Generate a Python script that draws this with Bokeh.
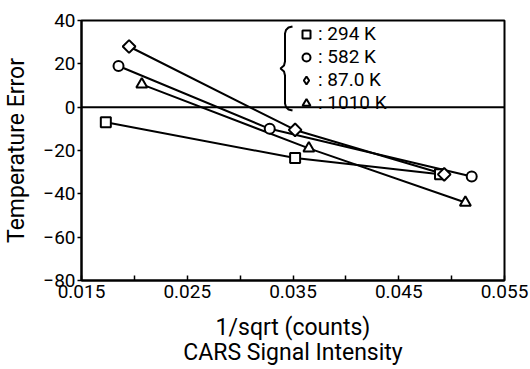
import math
from bokeh.plotting import figure
from bokeh.models import Range1d, FixedTicker, Span, Legend, LegendItem, PolyAnnotation, NumeralTickFormatter
from bokeh.embed import file_html
from bokeh.resources import INLINE

# ---- data ----
x_ticks_major = [0.015, 0.025, 0.035, 0.045, 0.055]
x_ticks_minor = [0.020, 0.030, 0.040, 0.050]
y_ticks = [40, 20, 0, -20, -40, -60, -80]

series_labels = ["294 K", "582 K", "87.0 K", "1010 K"]
x_294 = [0.0173, 0.0352, 0.0489]
y_294 = [-7.0, -23.5, -31.0]
x_582 = [0.0185, 0.0328, 0.0519]
y_582 = [19.0, -10.0, -32.0]
x_870 = [0.0195, 0.0352, 0.0493]
y_870 = [28.0, -10.5, -31.0]
x_1010 = [0.0207, 0.0365, 0.0513]
y_1010 = [10.5, -19.0, -44.0]

xs_all = [x_294, x_582, x_870, x_1010]
ys_all = [y_294, y_582, y_870, y_1010]
legend_markers = ["square", "circle", "diamond", "triangle"]
sizes = [10, 10, 9, 11]

FONT = "Roboto"

p = figure(width=530, height=369, output_backend="svg", toolbar_location=None,
           x_range=Range1d(0.015, 0.055), y_range=Range1d(-80, 40),
           min_border_left=80, min_border_right=26, min_border_top=20, min_border_bottom=87,
           background_fill_color="white", border_fill_color="white")
p.grid.visible = False
p.outline_line_color = "black"
p.outline_line_width = 2

# x axis
xa = p.xaxis[0]
xa.ticker = FixedTicker(ticks=x_ticks_major, minor_ticks=x_ticks_minor)
xa.formatter = NumeralTickFormatter(format="0.000")
xa.major_tick_in = 5
xa.major_tick_out = 0
xa.minor_tick_in = 5
xa.minor_tick_out = 0
xa.major_tick_line_width = 1.5
xa.minor_tick_line_width = 1.5
xa.axis_line_width = 2
xa.major_label_standoff = 4
xa.major_label_text_font = FONT
xa.major_label_text_font_size = "19px"
xa.major_label_text_color = "black"
xa.axis_label = "1/sqrt (counts)\nCARS Signal Intensity"
xa.axis_label_text_font = FONT
xa.axis_label_text_font_size = "23px"
xa.axis_label_text_font_style = "normal"
xa.axis_label_text_color = "black"
xa.axis_label_standoff = 13
xa.axis_label_text_line_height = 0.95

# y axis
ya = p.yaxis[0]
ya.ticker = FixedTicker(ticks=y_ticks)
ya.major_tick_in = 0
ya.major_tick_out = 4
ya.minor_tick_in = 0
ya.minor_tick_out = 0
ya.major_tick_line_width = 1.5
ya.axis_line_width = 2
ya.major_label_standoff = 2
ya.major_label_text_font = FONT
ya.major_label_text_font_size = "19px"
ya.major_label_text_color = "black"
ya.axis_label = "Temperature Error"
ya.axis_label_text_font = FONT
ya.axis_label_text_font_size = "23px"
ya.axis_label_text_font_style = "normal"
ya.axis_label_text_color = "black"
ya.axis_label_standoff = 10

# zero line
p.add_layout(Span(location=0, dimension="width", line_color="black", line_width=2))

# series lines
for xs, ys in zip(xs_all, ys_all):
    p.line(xs, ys, line_color="black", line_width=2)

# series markers
items = []
for i, (xs, ys, m, s, lab) in enumerate(zip(xs_all, ys_all, legend_markers, sizes, series_labels)):
    if m == "diamond":
        # legend glyph (hidden under the square-shaped diamonds drawn next)
        r = p.scatter(xs, ys, marker="diamond", size=s, fill_color="white", line_color="black", line_width=2)
        p.scatter(xs, ys, marker="square", angle=math.pi / 4, size=s, fill_color="white",
                  line_color="black", line_width=2)
    else:
        r = p.scatter(xs, ys, marker=m, size=s, fill_color="white", line_color="black", line_width=2)
    items.append(LegendItem(label=": " + lab, renderers=[r]))

legend = Legend(items=items, location=(215, 166), glyph_width=20, glyph_height=22,
                label_height=22, label_standoff=2, spacing=0, padding=0, margin=0,
                border_line_color=None, background_fill_alpha=0,
                label_text_font=FONT, label_text_font_size="19px", label_text_color="black")
p.add_layout(legend)

# curly brace beside the legend (frame-relative screen px)
bx = [291, 287, 284.5, 283.5, 283.5, 282.5, 279, 282.5, 283.5, 283.5, 284.5, 287, 291]
by = [28, 29, 31.5, 35, 63, 67, 70, 73, 77, 105, 108.5, 111, 112]
sx = [v - 80 for v in bx]
sy = [282 - v for v in by]
p.add_layout(PolyAnnotation(xs=sx + sx[::-1], ys=sy + sy[::-1], xs_units="screen", ys_units="screen",
                            fill_alpha=0, line_color="black", line_alpha=1.0, line_width=2))

open("out.html", "w").write(file_html(p, INLINE))
